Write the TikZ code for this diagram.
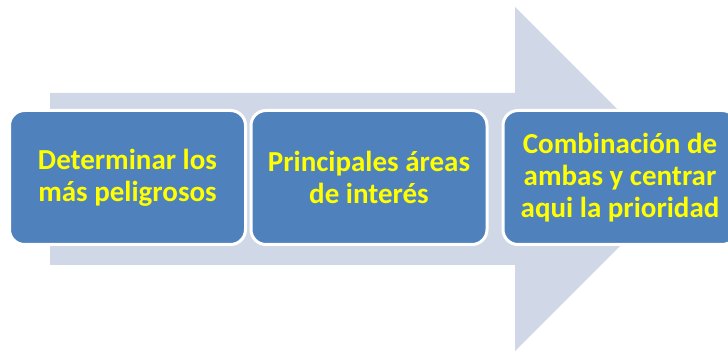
\documentclass[tikz,border=0pt]{standalone}
\usepackage{fontspec}
\setmainfont{Carlito}
\definecolor{arrowfill}{HTML}{D0D8E8}
\definecolor{boxfill}{HTML}{4F81BD}
\definecolor{txtyellow}{HTML}{FFFF00}
\begin{document}
\begin{tikzpicture}[x=1pt,y=-1pt,
  stepbox/.style={draw=white, line width=3pt, fill=boxfill, rounded corners=15pt,
    minimum width=236pt, minimum height=134pt, inner sep=0pt,
    align=center, text=txtyellow, font=\fontsize{29}{32}\selectfont\bfseries}]
\useasboundingbox (0,0) rectangle (728,352);
\fill[white] (0,0) rectangle (728,352);
% big background arrow
\fill[arrowfill] (50,93) -- (515,93) -- (515,7) -- (687,179) -- (515,351) -- (515,265) -- (50,265) -- cycle;
% boxes
\node[stepbox] (b1) at (127.5,177.5) {Determinar los\\más peligrosos};
\node[stepbox] (b2) at (369,177.5) {Principales áreas\\de interés};
\node[stepbox, minimum width=234pt] (b3) at (620,177.5) {Combinación de\\ambas y centrar\\aqui la prioridad};
\end{tikzpicture}
\end{document}
